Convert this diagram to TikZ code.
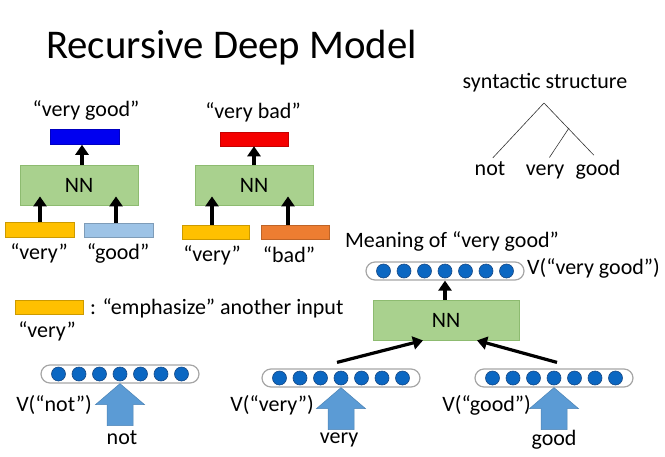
\documentclass[tikz,border=0pt]{standalone}
\usepackage{fontspec}
\setmainfont{Carlito}
\usetikzlibrary{arrows.meta,calc,positioning}
\definecolor{nngreen}{HTML}{A9D18E}
\definecolor{nnedge}{HTML}{8DBB70}
\definecolor{outblue}{HTML}{0000F0}
\definecolor{outred}{HTML}{F50000}
\definecolor{inyellow}{HTML}{FFC000}
\definecolor{inlblue}{HTML}{9DC3E6}
\definecolor{inorange}{HTML}{ED7D31}
\definecolor{dotblue}{HTML}{0B67C2}
\definecolor{dotedge}{HTML}{174A86}
\definecolor{wordblue}{HTML}{5B9BD5}

\begin{document}
\begin{tikzpicture}[x=1pt,y=-1pt,
  every node/.style={font=\fontsize{22}{26}\selectfont,inner sep=0pt},
  nnbox/.style={draw=nnedge,fill=nngreen,line width=0.8pt,minimum width=118pt,minimum height=40pt},
  colbar/.style={fill=#1,draw=#1!80!black,line width=0.5pt,minimum width=68pt,minimum height=14pt},
  vecbox/.style={draw=gray!70,line width=1.2pt,rounded corners=9pt,minimum width=158pt,minimum height=18pt},
  thickarrow/.style={line width=3.2pt,-{Triangle[length=10pt,width=13pt]}},
  wordarrow/.style={fill=wordblue,draw=wordblue!85!black,line width=0.5pt}]
\useasboundingbox (0,0) rectangle (665,456);

\node[font=\fontsize{40.8}{48}\selectfont,anchor=base west] (title) at (46,58) {Recursive Deep Model};

% very good
\node[nnbox] (nnA) at (79,185) {NN};
\node[colbar=outblue,minimum width=69pt,minimum height=15pt] (outA) at (84.5,137) {};
\node (lblA) at (86,110) {“very good”};
\node[colbar=inyellow,minimum width=69pt,minimum height=15pt] (inA1) at (40,229.5) {};
\node[colbar=inlblue,minimum width=69pt] (inA2) at (118.5,230) {};
\node (wA1) at (39,253) {“very”};
\node (wA2) at (118,253) {“good”};
\draw[thickarrow] ([xshift=-2.5pt]outA.south |- nnA.north) -- ([xshift=-2.5pt]outA.south);
\draw[thickarrow] (inA1.north) -- ($(inA1.north |- nnA.south)+(0,-9)$);
\draw[thickarrow] ([xshift=-2.5pt]inA2.north) -- ($([xshift=-2.5pt]inA2.north |- nnA.south)+(0,-9)$);

% very bad
\node[nnbox] (nnB) at (254,185) {NN};
\node[colbar=outred] (outB) at (254,139) {};
\node (lblB) at (253,112) {“very bad”};
\node[colbar=inyellow,minimum width=67pt] (inB1) at (215.5,232) {};
\node[colbar=inorange] (inB2) at (295,232) {};
\node (wB1) at (212,255) {“very”};
\node (wB2) at (289,255) {“bad”};
\draw[thickarrow] (outB.south |- nnB.north) -- (outB.south);
\draw[thickarrow] ([xshift=-3.5pt]inB1.north) -- ($([xshift=-3.5pt]inB1.north |- nnB.south)+(0,-9)$);
\draw[thickarrow] ([xshift=-7pt]inB2.north) -- ($([xshift=-7pt]inB2.north |- nnB.south)+(0,-9)$);

% syntactic structure
\node (syn) at (545,83) {syntactic structure};
\node[anchor=base] (tnot) at (490,175) {not};
\node[anchor=base] (tvery) at (545,175) {very};
\node[anchor=base] (tgood) at (598,175) {good};
\coordinate (troot) at (544,103);
\coordinate (tmid) at (569,128);
\draw[black!80,line width=0.6pt,shorten <=4pt] (tnot.north) -- (troot);
\draw[black!80,line width=0.6pt,shorten >=6pt] (troot) -- (tgood.north);
\draw[black!80,line width=0.6pt,shorten >=8pt] (tmid) -- (tvery.north);

% legend
\node[colbar=inyellow] (legbar) at (49,307) {};
\node[anchor=west] (legtxt) at (90,308) {: “emphasize” another input};
\node (legword) at (47,331) {“very”};

% vectors
\node (mean) at (452,241) {Meaning of “very good”};
\node[vecbox] (vtop) at (445,271) {};
\node[anchor=west] (vtoplbl) at (527,268) {V(“very good”)};
\node[nnbox,minimum width=146pt] (nnC) at (446,320) {NN};
\node[vecbox] (vnot) at (120,374) {};
\node[vecbox] (vvery) at (341,378) {};
\node[vecbox] (vgood) at (554,378) {};
\foreach \v in {vtop,vnot,vvery,vgood}
  \foreach \i in {-3,...,3}
    \filldraw[fill=dotblue,draw=dotedge,line width=0.6pt] ($(\v)+(\i*20.5,0)$) circle (7pt);
\foreach \v in {vnot,vvery,vgood}
  \filldraw[wordarrow] (\v.south) -- ++(24.5,21) -- ++(-11.5,0) -- ++(0,21) -- ++(-26,0) -- ++(0,-21) -- ++(-11.5,0) -- cycle;
\node[anchor=east] (lnot) at (92,405) {V(“not”)};
\node[anchor=east] (lvery) at (314,405) {V(“very”)};
\node[anchor=east] (lgood) at (531,405) {V(“good”)};
\node (wnot) at (122,438) {not};
\node (wvery) at (339,440) {very};
\node (wgood) at (554,440) {good};

\draw[thickarrow] (vtop.south |- nnC.north) -- (vtop.south);
\draw[thickarrow] ([xshift=-4pt,yshift=6pt]vvery.north) -- ([xshift=-23pt]nnC.south);
\draw[thickarrow] ([xshift=3pt,yshift=6pt]vgood.north) -- ([xshift=31pt]nnC.south);
\end{tikzpicture}
\end{document}
